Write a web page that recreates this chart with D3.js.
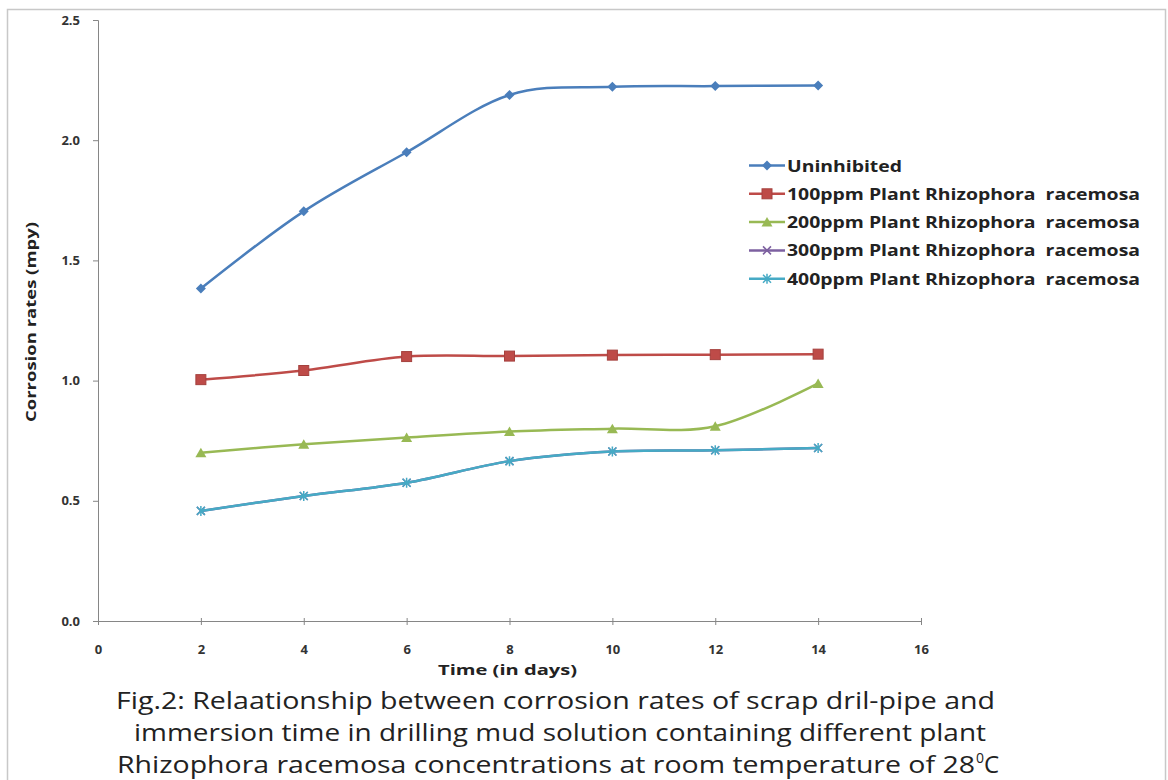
<!DOCTYPE html>
<html><head><meta charset="utf-8">
<script src="https://cdn.jsdelivr.net/npm/d3@7/dist/d3.min.js"></script>
<style>body{margin:0;background:#fff}svg{display:block}</style>
</head><body>
<svg id="c" width="1168" height="780"></svg>
<script>
const days = [2, 4, 6, 8, 10, 12, 14];
const uninhibited = [1.383, 1.704, 1.95, 2.188, 2.222, 2.225, 2.228];
const ppm100 = [1.004, 1.042, 1.10, 1.102, 1.106, 1.108, 1.11];
const ppm200 = [0.70, 0.735, 0.763, 0.788, 0.80, 0.81, 0.988];
const ppm300 = [0.458, 0.52, 0.575, 0.665, 0.705, 0.71, 0.72];
const ppm400 = [0.458, 0.52, 0.575, 0.665, 0.705, 0.71, 0.72];
const seriesNames = ["Uninhibited", "100ppm Plant Rhizophora  racemosa", "200ppm Plant Rhizophora  racemosa", "300ppm Plant Rhizophora  racemosa", "400ppm Plant Rhizophora  racemosa"];
const xTicks = [0, 2, 4, 6, 8, 10, 12, 14, 16];
const yTicks = [0, 0.5, 1.0, 1.5, 2.0, 2.5];
const captionLines = ["Fig.2: Relaationship between corrosion rates of scrap dril-pipe and", "immersion time in drilling mud solution containing different plant", "Rhizophora racemosa concentrations at room temperature of 28"];

const colors = ["#4a7ebb", "#be4b48", "#98b954", "#7d60a0", "#46aac5"];
const markers = ["diamond", "square", "triangle", "x", "star"];
const values = [uninhibited, ppm100, ppm200, ppm300, ppm400];

const svg = d3.select("#c");
const font = "'Open Sans', sans-serif";

// page frame
svg.append("rect").attr("x", 7.5).attr("y", 9.5).attr("width", 1158).attr("height", 790)
  .attr("fill", "none").attr("stroke", "#c8c8c8").attr("stroke-width", 1.5);

const x = d3.scaleLinear().domain([0, 16]).range([98, 921]);
const y = d3.scaleLinear().domain([0, 2.5]).range([621, 20]);

const xAxis = svg.append("g").attr("transform", "translate(0,621)")
  .call(d3.axisBottom(x).tickValues(xTicks).tickFormat(d3.format("d")).tickSize(4).tickPadding(8));
const yAxis = svg.append("g").attr("transform", "translate(98,0)")
  .call(d3.axisLeft(y).tickValues(yTicks).tickFormat(d3.format(".1f")).tickSize(5).tickPadding(13));
[xAxis, yAxis].forEach(a => {
  a.selectAll("path,line").attr("stroke", "#868686");
  a.selectAll("text").attr("font-family", font).attr("font-size", 13).attr("font-weight", "bold").attr("fill", "#333");
});
xAxis.selectAll(".tick line").attr("y1", -3);
xAxis.selectAll(".tick text").attr("y", 33).attr("dy", 0);

svg.append("text").attr("x", 438).attr("y", 675)
  .attr("font-family", font).attr("font-size", 15).attr("font-weight", "bold").attr("fill", "#222")
  .attr("textLength", 139).attr("lengthAdjust", "spacingAndGlyphs")
  .text("Time (in days)");
svg.append("text").attr("transform", "translate(36,322) rotate(-90)").attr("x", -100)
  .attr("font-family", font).attr("font-size", 15).attr("font-weight", "bold").attr("fill", "#222")
  .attr("textLength", 200).attr("lengthAdjust", "spacingAndGlyphs")
  .text("Corrosion rates (mpy)");

const line = d3.line().x((d, i) => x(days[i])).y(d => y(d)).curve(d3.curveCatmullRom.alpha(0));

function drawMarker(g, type, cx, cy, color) {
  if (type === "diamond") {
    g.append("path").attr("d", `M${cx},${cy-5}L${cx+5},${cy}L${cx},${cy+5}L${cx-5},${cy}Z`).attr("fill", color);
  } else if (type === "square") {
    g.append("rect").attr("x", cx-5).attr("y", cy-5).attr("width", 10).attr("height", 10).attr("fill", color).attr("stroke", d3.color(color).darker(0.4));
  } else if (type === "triangle") {
    g.append("path").attr("d", `M${cx},${cy-5}L${cx+5.5},${cy+4.5}L${cx-5.5},${cy+4.5}Z`).attr("fill", color);
  } else if (type === "x") {
    g.append("path").attr("d", `M${cx-4},${cy-4}L${cx+4},${cy+4}M${cx-4},${cy+4}L${cx+4},${cy-4}`).attr("stroke", color).attr("stroke-width", 1.5);
  } else {
    g.append("path").attr("d", `M${cx-4},${cy-4}L${cx+4},${cy+4}M${cx-4},${cy+4}L${cx+4},${cy-4}M${cx},${cy-5}L${cx},${cy+5}`).attr("stroke", color).attr("stroke-width", 1.5);
  }
}

values.forEach((vals, si) => {
  const g = svg.append("g");
  g.append("path").attr("d", line(vals)).attr("fill", "none").attr("stroke", colors[si]).attr("stroke-width", 2.5);
  vals.forEach((v, i) => drawMarker(g, markers[si], x(days[i]), y(v), colors[si]));
});

// legend
const legend = svg.append("g");
seriesNames.forEach((name, i) => {
  const ly = 165.5 + i * 28.3;
  legend.append("line").attr("x1", 749).attr("x2", 785).attr("y1", ly).attr("y2", ly).attr("stroke", colors[i]).attr("stroke-width", 2.5);
  drawMarker(legend, markers[i], 767, ly, colors[i]);
  legend.append("text").attr("x", 787).attr("y", ly + 6).attr("font-family", font).attr("font-size", 16)
    .attr("font-weight", "bold").attr("fill", "#222").style("white-space", "pre")
    .attr("textLength", i === 0 ? 115 : 353).attr("lengthAdjust", "spacingAndGlyphs").text(name);
});

// caption
const capY = [709, 741, 773];
const capX = [116, 134, 117];
const capLen = [879, 852, 858];
captionLines.forEach((t, i) => {
  const tx = svg.append("text").attr("x", capX[i]).attr("y", capY[i])
    .attr("font-family", font).attr("font-size", 24).attr("fill", "#222");
  tx.append("tspan").attr("textLength", capLen[i]).attr("lengthAdjust", "spacingAndGlyphs").text(t);
  if (i === 2) {
    tx.append("tspan").attr("x", capX[i] + capLen[i] + 1).attr("font-size", 14).attr("dy", -10).text("0");
    tx.append("tspan").attr("dy", 10).text("C");
  }
});
</script>
</body></html>
